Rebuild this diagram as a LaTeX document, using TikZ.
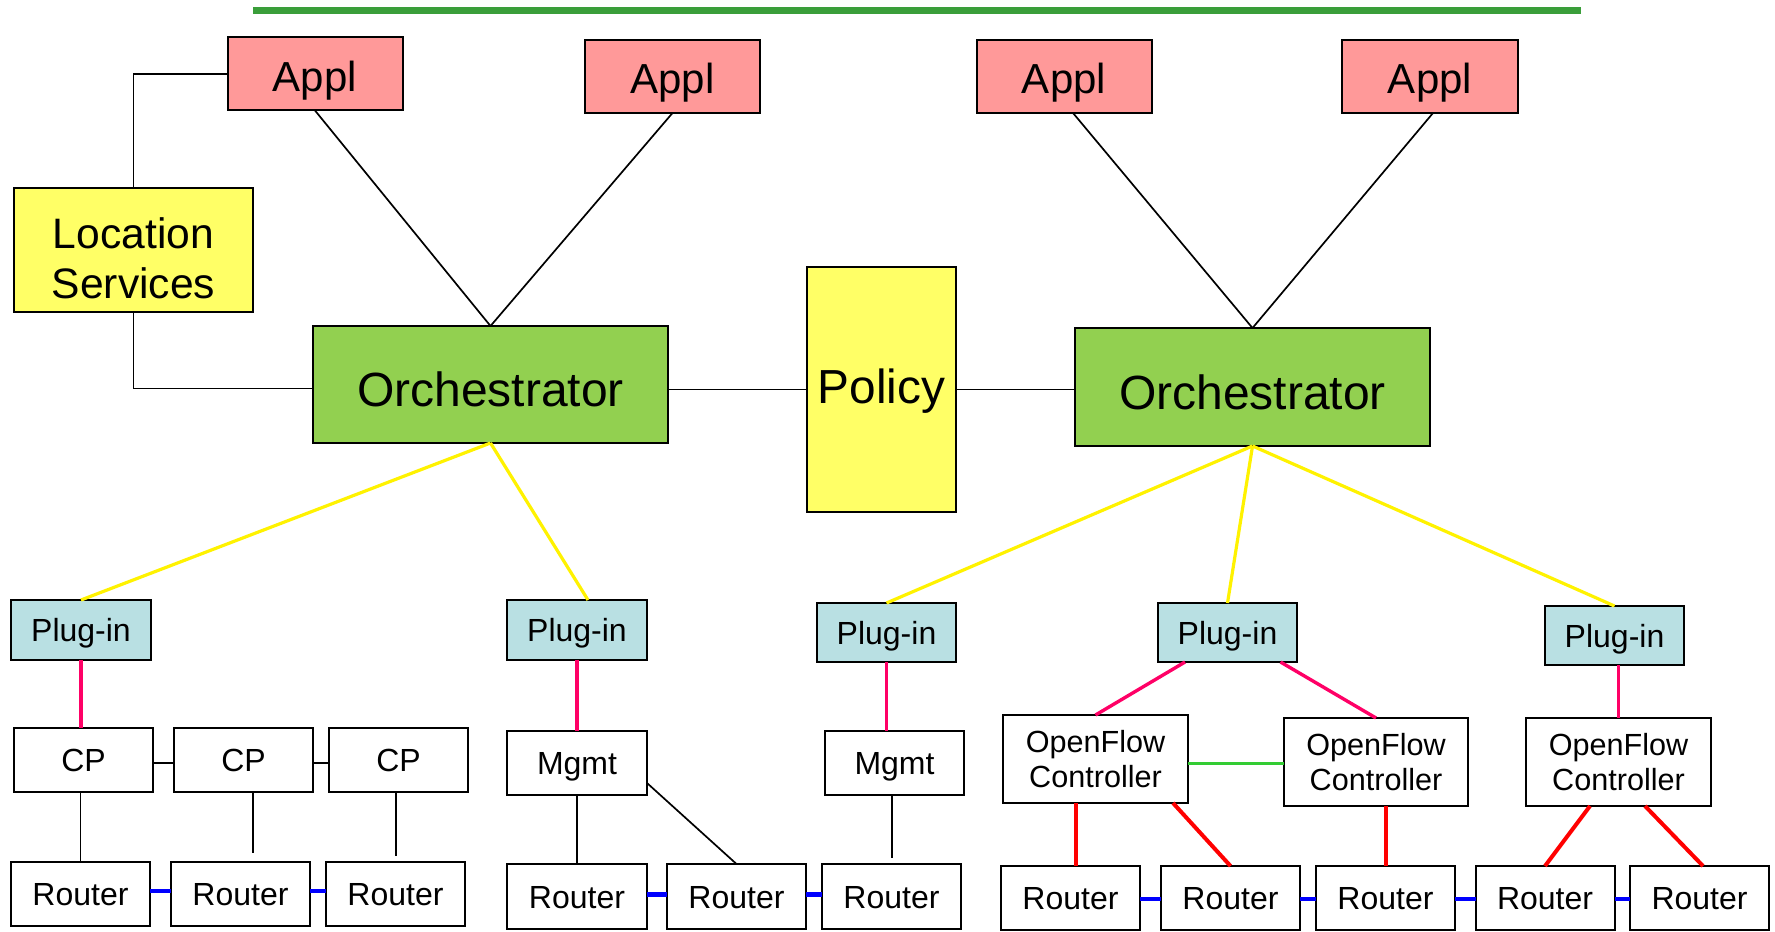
\documentclass[tikz,border=0pt]{standalone}
\usepackage{fontspec}
\setmainfont{Liberation Sans}
\usetikzlibrary{calc}

\definecolor{applfill}{HTML}{FF9999}
\definecolor{svcfill}{HTML}{FFFF66}
\definecolor{orchfill}{HTML}{92D050}
\definecolor{plugfill}{HTML}{B9E0E3}
\definecolor{bargreen}{HTML}{3A9E3A}
\definecolor{pluglink}{HTML}{FF0066}
\definecolor{ofpeer}{HTML}{33CC33}

\begin{document}
\begin{tikzpicture}[x=0.5pt,y=-0.5pt,
  box/.style={draw, line width=1pt, inner sep=0pt, outer sep=0pt},
  sz/.style 2 args={minimum width=#1*0.5pt, minimum height=#2*0.5pt},
  applbox/.style={box, fill=applfill, sz={175}{73},
    font=\fontsize{21}{25}\selectfont, text height=17pt, text depth=0pt},
  orchbox/.style={box, fill=orchfill, sz={355}{118},
    font=\fontsize{24}{28}\selectfont, text height=22pt, text depth=0pt},
  plugbox/.style={box, fill=plugfill, sz={139}{59},
    font=\fontsize{16}{19}\selectfont, text height=11.5pt, text depth=0pt},
  devbox/.style={box, fill=white, sz={139}{64},
    font=\fontsize{16}{19}\selectfont, text height=11.5pt, text depth=0pt},
  ofbox/.style={box, fill=white, sz={185}{88}, align=center,
    font=\fontsize{15.3}{17.5}\selectfont},
  thin/.style={draw=black, line width=0.85pt},
  yellowlink/.style={draw=yellow, line width=1.6pt},
  pinklink/.style={draw=pluglink, line width=1.7pt},
  redlink/.style={draw=red, line width=2pt},
  greenlink/.style={draw=ofpeer, line width=1.5pt},
  bluelink/.style={draw=blue, line width=2.1pt}]

\useasboundingbox (0,0) rectangle (1775,931);

% header bar
\draw[bargreen, line width=3.5pt] (253,10.5) -- (1581,10.5);

% applications
\node[applbox] (A1) at (315,74) {Appl};
\node[applbox] (A2) at (672.5,76.5) {Appl};
\node[applbox] (A3) at (1064,76.5) {Appl};
\node[applbox, sz={176}{73}] (A4) at (1430,76.5) {Appl};

% services and orchestration
\node[box, fill=svcfill, sz={239}{124}, align=center,
  font=\fontsize{21.3}{25}\selectfont] (LS) at (133.5,250)
  {\raisebox{-6.5pt}[\height][\depth]{\begin{tabular}{@{}c@{}}Location\\Services\end{tabular}}};
\node[orchbox, sz={355}{117}] (O1) at (490.5,384.5) {Orchestrator};
\node[box, fill=svcfill, sz={149}{245},
  font=\fontsize{23.9}{28}\selectfont, text height=17.1pt, text depth=3pt] (Pol) at (881.5,389.5) {Policy};
\node[orchbox] (O2) at (1252.5,387) {Orchestrator};

% plug-ins
\node[plugbox, sz={140}{60}] (P1) at (81,630) {Plug-in};
\node[plugbox, sz={140}{60}] (P2) at (577,630) {Plug-in};
\node[plugbox] (P3) at (886.5,632.5) {Plug-in};
\node[plugbox] (P4) at (1227.5,632.5) {Plug-in};
\node[plugbox] (P5) at (1614.5,635.5) {Plug-in};

% control points and management
\node[devbox] (CP1) at (83.5,760) {CP};
\node[devbox] (CP2) at (243.5,760) {CP};
\node[devbox] (CP3) at (398.5,760) {CP};
\node[devbox, sz={140}{64}] (M1) at (577,763) {Mgmt};
\node[devbox] (M2) at (894.5,763) {Mgmt};

% OpenFlow controllers
\node[ofbox] (OF1) at (1095.5,759) {OpenFlow\\Controller};
\node[ofbox, sz={184}{88}] (OF2) at (1376,762) {OpenFlow\\Controller};
\node[ofbox] (OF3) at (1618.5,762) {OpenFlow\\Controller};

% routers
\node[devbox] (R1) at (80.5,894) {Router};
\node[devbox] (R2) at (240.5,894) {Router};
\node[devbox] (R3) at (395.5,894) {Router};
\node[devbox, sz={140}{65}] (R4) at (577,896.5) {Router};
\node[devbox, sz={139}{65}] (R5) at (736.5,896.5) {Router};
\node[devbox, sz={139}{65}] (R6) at (891.5,896.5) {Router};
\node[devbox] (R7) at (1070.5,898) {Router};
\node[devbox] (R8) at (1230.5,898) {Router};
\node[devbox] (R9) at (1385.5,898) {Router};
\node[devbox] (R10) at (1545,898) {Router};
\node[devbox] (R11) at (1699.5,898) {Router};

% upper black links
\coordinate (o1in) at ($(O1.west)+(0,4)$);
\draw[thin] (A1.west) -| (LS.north);
\draw[thin] (LS.south) |- (o1in);
\draw[thin] (A1.south) -- (O1.north);
\draw[thin] (A2.south) -- (O1.north);
\draw[thin] ($(A3.south)+(9,0)$) -- (O2.north);
\draw[thin] ($(A4.south)+(3,0)$) -- (O2.north);
\draw[thin] (O1.east |- Pol.west) -- (Pol.west);
\draw[thin] (Pol.east) -- (O2.west |- Pol.east);

% orchestrator to plug-ins
\draw[yellowlink] (O1.south) -- (P1.north);
\draw[yellowlink] (O1.south) -- ($(P2.north)+(11,0)$);
\draw[yellowlink] (O2.south) -- (P3.north);
\draw[yellowlink] (O2.south) -- (P4.north);
\draw[yellowlink] (O2.south) -- (P5.north);

% plug-ins to their controllers
\draw[pinklink] (P1.south) -- (P1.south |- CP1.north);
\draw[pinklink] (P2.south) -- (M1.north);
\draw[pinklink] (P3.south) -- (P3.south |- M2.north);
\draw[pinklink] ($(P4.south)+(-42.5,0)$) -- (OF1.north);
\draw[pinklink] ($(P4.south)+(53,0)$) -- (OF2.north);
\draw[pinklink] (OF3.north |- P5.south) -- (OF3.north);

% control points and management to routers
\coordinate (c2end) at ($(R2.north)+(12.5,-9)$);
\coordinate (c3end) at ($(R3.north)+(0.5,-6)$);
\coordinate (m2end) at ($(R6.north)+(0.5,-6)$);
\draw[thin] ($(CP1.east)+(0,3)$) -- ($(CP2.west)+(0,3)$);
\draw[thin] ($(CP2.east)+(0,3)$) -- ($(CP3.west)+(0,3)$);
\draw[thin] (CP1.south -| R1.north) -- (R1.north);
\draw[thin] (c2end |- CP2.south) -- (c2end);
\draw[thin] (c3end |- CP3.south) -- (c3end);
\draw[thin] (M1.south) -- (R4.north);
\draw[thin] ($(M1.south east)+(0,-12)$) -- (R5.north);
\draw[thin] (m2end |- M2.south) -- (m2end);

% OpenFlow controllers to routers
\draw[greenlink] ($(OF1.east)+(0,4)$) -- ($(OF2.west)+(0,1)$);
\draw[redlink] ($(OF1.south)+(-19.5,0)$) -- ($(R7.north)+(5.5,0)$);
\draw[redlink] ($(OF1.south)+(77.5,0)$) -- (R8.north);
\draw[redlink] (R9.north |- OF2.south) -- (R9.north);
\draw[redlink] ($(OF3.south)+(-28.5,0)$) -- (R10.north);
\draw[redlink] ($(OF3.south)+(26.5,0)$) -- ($(R11.north)+(3.5,0)$);

% router data links
\draw[bluelink] ($(R1.east)+(0,-3)$) -- ($(R2.west)+(0,-3)$);
\draw[bluelink] ($(R2.east)+(0,-3)$) -- ($(R3.west)+(0,-3)$);
\draw[bluelink] ($(R4.east)+(0,-2)$) -- ($(R5.west)+(0,-2)$);
\draw[bluelink] ($(R5.east)+(0,-2)$) -- ($(R6.west)+(0,-2)$);
\draw[bluelink] ($(R7.east)+(0,1)$) -- ($(R8.west)+(0,1)$);
\draw[bluelink] ($(R8.east)+(0,1)$) -- ($(R9.west)+(0,1)$);
\draw[bluelink] ($(R9.east)+(0,1)$) -- ($(R10.west)+(0,1)$);
\draw[bluelink] ($(R10.east)+(0,1)$) -- ($(R11.west)+(0,1)$);

\end{tikzpicture}
\end{document}
